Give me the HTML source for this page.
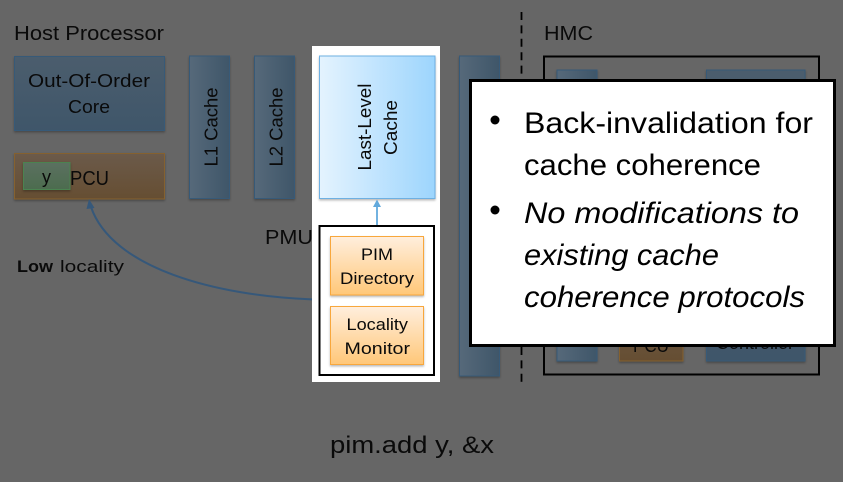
<!DOCTYPE html>
<html>
<head>
<meta charset="utf-8">
<style>
html,body{margin:0;padding:0;background:#666;width:843px;height:482px;overflow:hidden}
svg{display:block}
text{font-family:"Liberation Sans",sans-serif;fill:#0a0a0a}
</style>
</head>
<body>
<svg width="843" height="482" viewBox="0 0 843 482" xmlns="http://www.w3.org/2000/svg">
<defs>
<linearGradient id="bv" x1="0" y1="0" x2="0" y2="1"><stop offset="0" stop-color="#4b5d6d"/><stop offset="1" stop-color="#3f566a"/></linearGradient>
<linearGradient id="bh" x1="0" y1="0" x2="1" y2="0"><stop offset="0" stop-color="#56697a"/><stop offset="1" stop-color="#3f5669"/></linearGradient>
<linearGradient id="ov" x1="0" y1="0" x2="0" y2="1"><stop offset="0" stop-color="#6b5a4a"/><stop offset="1" stop-color="#664e32"/></linearGradient>
<linearGradient id="gv" x1="0" y1="0" x2="0" y2="1"><stop offset="0" stop-color="#5b7060"/><stop offset="1" stop-color="#4c6c4e"/></linearGradient>
<linearGradient id="llc" x1="0" y1="0" x2="1" y2="0"><stop offset="0" stop-color="#e4f3fe"/><stop offset="1" stop-color="#9dd5fd"/></linearGradient>
<linearGradient id="org" x1="0" y1="0" x2="0" y2="1"><stop offset="0" stop-color="#ffeedd"/><stop offset="1" stop-color="#ffc778"/></linearGradient>
<filter id="sh" x="-20%" y="-20%" width="140%" height="140%" color-interpolation-filters="sRGB"><feDropShadow dx="0" dy="1.5" stdDeviation="1" flood-color="#000" flood-opacity=".28"/></filter>
</defs>

<rect width="843" height="482" fill="#666"/>

<text x="14" y="40" font-size="20" textLength="150" lengthAdjust="spacingAndGlyphs">Host Processor</text>

<rect x="14.5" y="56.5" width="150" height="74" fill="url(#bv)" stroke="#375a78" filter="url(#sh)"/>
<text x="28" y="87" font-size="18.5" textLength="122" lengthAdjust="spacingAndGlyphs">Out-Of-Order</text>
<text x="68" y="113" font-size="18.5" textLength="42" lengthAdjust="spacingAndGlyphs">Core</text>

<rect x="14.5" y="153.5" width="150" height="45.5" fill="url(#ov)" stroke="#85612f" filter="url(#sh)"/>
<rect x="23.5" y="162.5" width="46.5" height="27" fill="url(#gv)" stroke="#4b8350" filter="url(#sh)"/>
<text x="42" y="183" font-size="18.5" textLength="9" lengthAdjust="spacingAndGlyphs">y</text>
<text x="70" y="185" font-size="20" textLength="39" lengthAdjust="spacingAndGlyphs">PCU</text>

<rect x="189.5" y="56" width="40" height="142.5" fill="url(#bh)" stroke="#375a78" filter="url(#sh)"/>
<text transform="translate(217.5,166.5) rotate(-90)" font-size="18.5" textLength="79" lengthAdjust="spacingAndGlyphs">L1 Cache</text>
<rect x="254.5" y="56" width="40" height="142.5" fill="url(#bh)" stroke="#375a78" filter="url(#sh)"/>
<text transform="translate(282.5,166.5) rotate(-90)" font-size="18.5" textLength="79" lengthAdjust="spacingAndGlyphs">L2 Cache</text>

<path d="M314,299.5 C215,296 112,268 91,207" fill="none" stroke="#36587a" stroke-width="2"/>
<polygon points="89,199 94.500,208 86.500,209" fill="#36587a"/>

<text x="17" y="272" font-size="16.500" font-weight="bold" textLength="36" lengthAdjust="spacingAndGlyphs">Low</text>
<text x="60" y="272" font-size="16.500" textLength="64" lengthAdjust="spacingAndGlyphs">locality</text>

<text x="265" y="244" font-size="20" textLength="48" lengthAdjust="spacingAndGlyphs">PMU</text>

<rect x="459.500" y="56" width="40" height="320" fill="url(#bh)" stroke="#375a78" filter="url(#sh)"/>

<rect x="312" y="46" width="128" height="336" fill="#fff"/>
<rect x="319.500" y="56" width="115.500" height="142.500" fill="url(#llc)" stroke="#6eb0e2" filter="url(#sh)"/>
<text transform="translate(371,170.500) rotate(-90)" font-size="18" textLength="87" lengthAdjust="spacingAndGlyphs">Last-Level</text>
<text transform="translate(397,155) rotate(-90)" font-size="18" textLength="55" lengthAdjust="spacingAndGlyphs">Cache</text>

<line x1="377" y1="226" x2="377" y2="206" stroke="#62a9dc" stroke-width="1.800"/>
<polygon points="377,199.500 381,207 373,207" fill="#62a9dc"/>

<rect x="319.500" y="226" width="114.500" height="149" fill="#fff" stroke="#000" stroke-width="2"/>
<rect x="330.500" y="236.500" width="93" height="58.500" fill="url(#org)" stroke="#f8a73c" filter="url(#sh)"/>
<text x="361" y="260" font-size="16.500" textLength="32" lengthAdjust="spacingAndGlyphs">PIM</text>
<text x="340" y="284" font-size="16.500" textLength="74" lengthAdjust="spacingAndGlyphs">Directory</text>
<rect x="330.500" y="306.500" width="93" height="58" fill="url(#org)" stroke="#f8a73c" filter="url(#sh)"/>
<text x="346.500" y="330" font-size="16.500" textLength="61.500" lengthAdjust="spacingAndGlyphs">Locality</text>
<text x="344.500" y="354" font-size="16.500" textLength="65.500" lengthAdjust="spacingAndGlyphs">Monitor</text>

<line x1="521.500" y1="12" x2="521.500" y2="385" stroke="#000" stroke-width="1.800" stroke-dasharray="8 5.400"/>

<text x="544" y="40" font-size="20" textLength="49" lengthAdjust="spacingAndGlyphs">HMC</text>
<rect x="544" y="56.500" width="275" height="318" fill="none" stroke="#000" stroke-width="2"/>
<rect x="557" y="70" width="40" height="291" fill="url(#bh)" stroke="#375a78" filter="url(#sh)"/>
<rect x="706.500" y="70" width="98.500" height="291" fill="url(#bv)" stroke="#375a78" filter="url(#sh)"/>
<rect x="619.500" y="300" width="63.500" height="61" fill="url(#ov)" stroke="#85612f" filter="url(#sh)"/>
<text x="633" y="352" font-size="18.500" textLength="36" lengthAdjust="spacingAndGlyphs">PCU</text>
<text x="716" y="349" font-size="18" textLength="78" lengthAdjust="spacingAndGlyphs">Controller</text>

<rect x="470.500" y="80.500" width="364" height="265" fill="#fff" stroke="#000" stroke-width="3"/>
<circle cx="495" cy="120" r="4.500" fill="#000"/>
<circle cx="495" cy="210" r="4.500" fill="#000"/>
<text x="524" y="133" font-size="30" style="fill:#000" textLength="289" lengthAdjust="spacingAndGlyphs">Back-invalidation for</text>
<text x="524" y="175" font-size="30" style="fill:#000" textLength="237" lengthAdjust="spacingAndGlyphs">cache coherence</text>
<text x="524" y="223" font-size="30" font-style="italic" style="fill:#000" textLength="275" lengthAdjust="spacingAndGlyphs">No modifications to</text>
<text x="524" y="265" font-size="30" font-style="italic" style="fill:#000" textLength="195" lengthAdjust="spacingAndGlyphs">existing cache</text>
<text x="524" y="307" font-size="30" font-style="italic" style="fill:#000" textLength="281" lengthAdjust="spacingAndGlyphs">coherence protocols</text>

<text x="330" y="453" font-size="24" textLength="164" lengthAdjust="spacingAndGlyphs">pim.add y, &amp;x</text>
</svg>
</body>
</html>
